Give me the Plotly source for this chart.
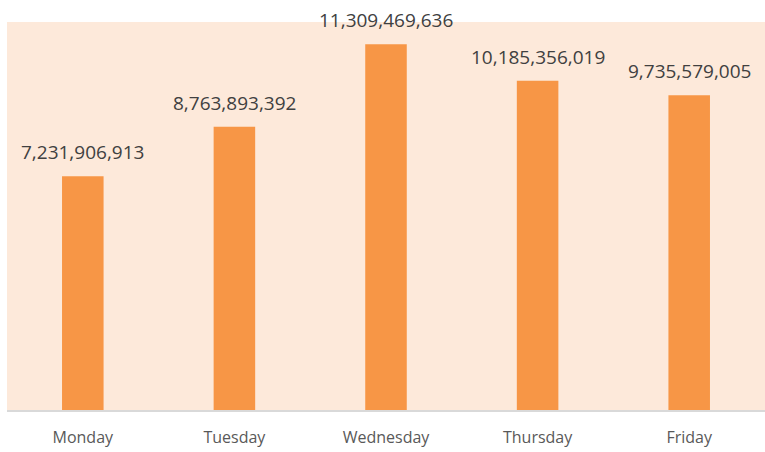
import plotly.graph_objects as go

days = ["Monday", "Tuesday", "Wednesday", "Thursday", "Friday"]
values = [7231906913, 8763893392, 11309469636, 10185356019, 9735579005]
labels = [f"{v:,}" for v in values]

fig = go.Figure(go.Bar(
    x=days, y=values,
    marker=dict(color="#F79646", line=dict(width=0)),
    cliponaxis=False, hoverinfo="skip",
))
for d, v, t in zip(days, values, labels):
    fig.add_annotation(x=d, y=v, text=t, showarrow=False, yanchor="bottom",
                       yshift=9, font=dict(size=19, color="#404040", family="Open Sans"))
fig.update_layout(
    width=765, height=452,
    margin=dict(l=7, r=0, t=22, b=42, autoexpand=False),
    paper_bgcolor="white", plot_bgcolor="#FDE9DA",
    bargap=0.726, showlegend=False,
    font=dict(family="Open Sans", color="#595959"),
)
fig.update_xaxes(showline=True, linecolor="#D9D9D9", linewidth=2, automargin=False,
                 tickfont=dict(size=16, color="#595959"),
                 ticks="outside", ticklen=12, tickcolor="rgba(0,0,0,0)")
fig.update_yaxes(range=[0, 12e9], visible=False, showgrid=False, automargin=False)
fig.write_html("out.html", config={"displayModeBar": False},
               post_script="document.body.style.margin='0';document.body.style.overflow='hidden';")
